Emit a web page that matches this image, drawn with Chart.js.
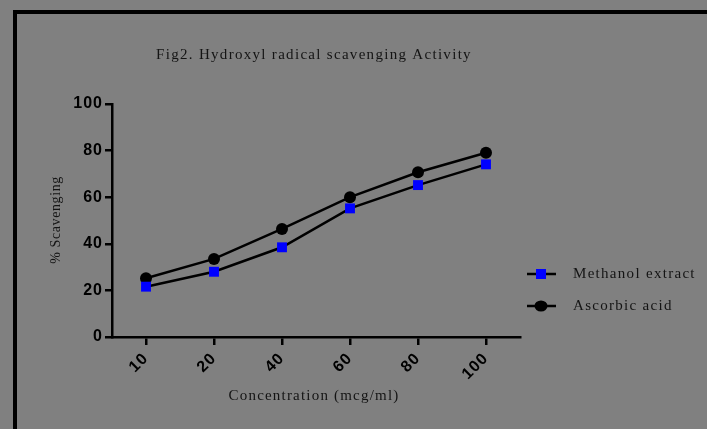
<!DOCTYPE html>
<html>
<head>
<meta charset="utf-8">
<script src="https://cdn.jsdelivr.net/npm/chart.js@4/dist/chart.umd.min.js"></script>
<style>
  html, body { margin: 0; padding: 0; background: #808080; }
  #wrap { position: relative; width: 707px; height: 429px; overflow: hidden; }
  #frame { position: absolute; left: 13px; top: 10px; width: 800px; height: 500px;
           border-left: 4px solid #000; border-top: 4px solid #000; }
  canvas { position: absolute; left: 0; top: 0; }
</style>
</head>
<body>
<div id="wrap">
  <div id="frame"></div>
  <canvas id="c" width="707" height="429"></canvas>
</div>
<script>
const categories = ['10', '20', '40', '60', '80', '100'];
const methanolExtract = [21.6, 28.0, 38.5, 55.2, 65.2, 74.1];
const ascorbicAcid = [25.2, 33.5, 46.4, 60.0, 70.7, 79.1];
const seriesLabels = ['Methanol extract', 'Ascorbic acid'];
const chartTitle = 'Fig2. Hydroxyl radical scavenging Activity';
const xTitle = 'Concentration (mcg/ml)';
const yTitle = '% Scavenging';
const yMin = 0, yMax = 100, yStep = 20;

const serif = '"Liberation Serif", "DejaVu Serif", serif';
const textColor = '#141414';

const spacingPlugin = {
  id: 'spacing',
  beforeDraw(chart) { chart.ctx.letterSpacing = '1px'; },
  afterDraw(chart) {
    const ctx = chart.ctx;
    ctx.save();
    ctx.fillStyle = textColor;
    ctx.textAlign = 'center';
    ctx.textBaseline = 'middle';
    // title
    ctx.letterSpacing = '1.3px';
    ctx.font = '15px ' + serif;
    ctx.fillText(chartTitle, 314, 55);
    // x title
    ctx.letterSpacing = '1.2px';
    ctx.font = '15px ' + serif;
    ctx.fillText(xTitle, 314, 396);
    // y title
    ctx.save();
    ctx.translate(56, 220);
    ctx.rotate(-Math.PI / 2);
    ctx.letterSpacing = '0.6px';
    ctx.font = '14px ' + serif;
    ctx.fillText(yTitle, 0, 0);
    ctx.restore();
    // legend
    const ds = chart.data.datasets;
    const rows = [274, 306];
    ds.forEach((d, i) => {
      const y = rows[i];
      ctx.strokeStyle = d.borderColor;
      ctx.lineWidth = 2.5;
      ctx.beginPath();
      ctx.moveTo(527, y);
      ctx.lineTo(556, y);
      ctx.stroke();
      ctx.fillStyle = d.pointBackgroundColor;
      if (d.pointStyle === 'rect') {
        ctx.fillRect(536, y - 5, 10, 10);
      } else {
        ctx.beginPath();
        ctx.ellipse(541, y, 6.5, 5.5, 0, 0, Math.PI * 2);
        ctx.fill();
      }
      ctx.fillStyle = textColor;
      ctx.textAlign = 'left';
      ctx.letterSpacing = '1.3px';
      ctx.font = '15px ' + serif;
      ctx.fillText(d.label, 573, y);
    });
    ctx.restore();
  }
};

new Chart(document.getElementById('c'), {
  type: 'line',
  data: {
    labels: categories,
    datasets: [
      {
        label: seriesLabels[0],
        data: methanolExtract,
        borderColor: '#000000',
        borderWidth: 2.5,
        pointStyle: 'rect',
        pointRadius: 7,
        pointBackgroundColor: '#0000ff',
        pointBorderColor: '#0000ff',
        pointBorderWidth: 0,
        tension: 0,
        fill: false
      },
      {
        label: seriesLabels[1],
        data: ascorbicAcid,
        borderColor: '#000000',
        borderWidth: 2.5,
        pointStyle: 'circle',
        pointRadius: 6,
        pointBackgroundColor: '#000000',
        pointBorderColor: '#000000',
        pointBorderWidth: 0,
        tension: 0,
        fill: false
      }
    ]
  },
  options: {
    responsive: false,
    animation: false,
    devicePixelRatio: 1,
    layout: { padding: { left: 0, top: 104, right: 187, bottom: 0 } },
    plugins: {
      legend: { display: false },
      title: { display: false },
      tooltip: { enabled: false }
    },
    scales: {
      x: {
        offset: true,
        grid: { display: true, drawOnChartArea: false, drawTicks: true, tickLength: 8, color: '#000', lineWidth: 2.5 },
        border: { display: true, color: '#000', width: 2.5 },
        ticks: {
          color: '#000',
          font: { family: '"Liberation Sans", Arial, sans-serif', size: 16, weight: 'bold' },
          minRotation: 45, maxRotation: 45, padding: 4
        },
        afterFit(scale) { scale.height = 92; }
      },
      y: {
        min: yMin, max: yMax,
        grid: { display: true, drawOnChartArea: false, drawTicks: true, tickLength: 7, color: '#000', lineWidth: 2.5 },
        border: { display: true, color: '#000', width: 2.5 },
        ticks: {
          stepSize: yStep,
          color: '#000',
          font: { family: '"Liberation Sans", Arial, sans-serif', size: 16, weight: 'bold' },
          padding: 2
        },
        afterFit(scale) { scale.width = 112; }
      }
    }
  },
  plugins: [spacingPlugin]
});
</script>
</body>
</html>
